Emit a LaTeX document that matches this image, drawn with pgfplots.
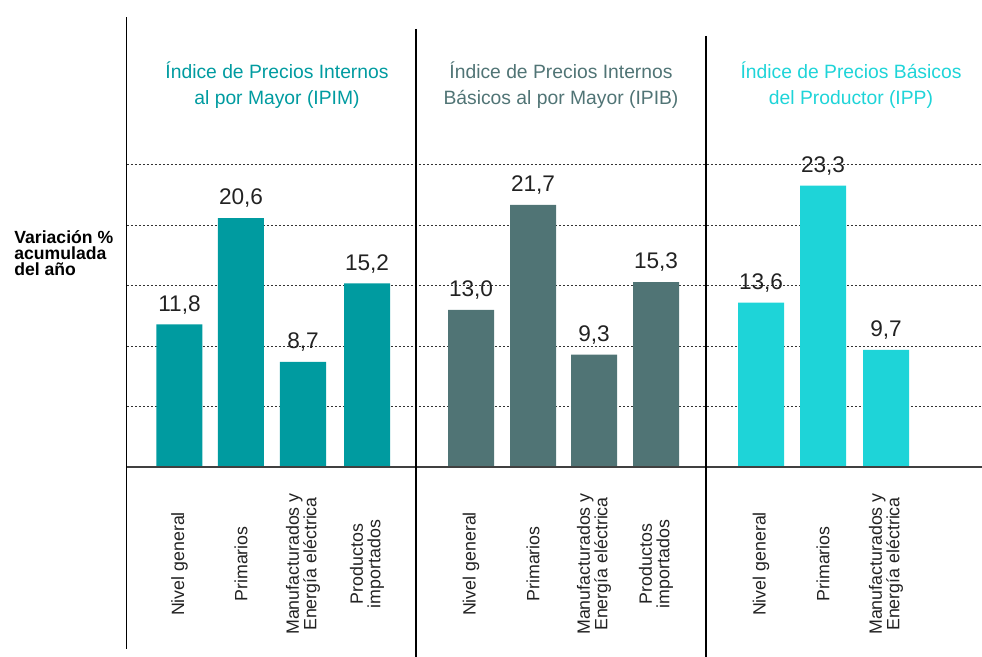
\documentclass[border=0pt]{standalone}
\usepackage{pgfplots}
\pgfplotsset{compat=1.18}
\usepackage{fontspec}
\setmainfont{Liberation Sans}
\definecolor{c1}{HTML}{009BA0}
\definecolor{c2}{HTML}{507475}
\definecolor{c3}{HTML}{1ED4D8}
\definecolor{txt}{HTML}{222222}
\begin{document}
\begin{tikzpicture}[x=1pt,y=1pt]
\useasboundingbox (0,0) rectangle (491,328.5);
\begin{axis}[
  at={(63.5pt,95pt)}, anchor=south west,
  scale only axis, width=427.5pt, height=151pt,
  xmin=127, xmax=982, ymin=0, ymax=25,
  axis line style={draw=none},
  major tick length=0pt,
  ytick={5,10,15,20,25}, yticklabels={},
  ymajorgrids,
  grid style={gray!40!black, dash pattern=on 1.1pt off 0.9pt, line width=0.5pt},
  xtick={179.5,241,303,367,471,533,594,656,761,823,886},
  xticklabels={Nivel general, Primarios, {Manufacturados y\\Energía eléctrica}, {Productos\\importados},
               Nivel general, Primarios, {Manufacturados y\\Energía eléctrica}, {Productos\\importados},
               Nivel general, Primarios, {Manufacturados y\\Energía eléctrica}},
  xticklabel style={rotate=90, anchor=center, align=center, font=\fontsize{8.9}{8.7}\selectfont, text=txt},
  xticklabel shift=48.5pt,
  ybar, bar width=23pt,
  clip=false,
  nodes near coords,
  every node near coord/.append style={font=\fontsize{11.3}{11.3}\selectfont, text=txt, anchor=south, inner sep=0pt, yshift=5pt},
  /pgf/number format/use comma,
  /pgf/number format/fixed,
  /pgf/number format/fixed zerofill,
  /pgf/number format/precision=1,
  /pgf/number format/assume math mode=true,
]
\addplot[fill=c1, draw=none, bar shift=0pt] coordinates {(179.5,11.8) (241,20.6) (303,8.7) (367,15.2)};
\addplot[fill=c2, draw=none, bar shift=0pt] coordinates {(471,13.0) (533,21.7) (594,9.3) (656,15.3)};
\addplot[fill=c3, draw=none, bar shift=0pt] coordinates {(761,13.6) (823,23.3) (886,9.7)};

\draw[gray!50!black, line width=0.7pt] (axis cs:127,0) -- (axis cs:982,0);
\draw[black, line width=0.6pt] (axis cs:126.5,37.25) -- (axis cs:126.5,-15.07);
\draw[black, line width=0.6pt] (axis cs:416,36.26) -- (axis cs:416,-15.73);
\draw[black, line width=0.6pt] (axis cs:706,35.68) -- (axis cs:706,-15.73);

\node[align=center, text=c1, font=\fontsize{9.65}{13}\selectfont] at (axis cs:277,31.6) {Índice de Precios Internos\\al por Mayor (IPIM)};
\node[align=center, text=c2, font=\fontsize{9.65}{13}\selectfont] at (axis cs:561,31.6) {Índice de Precios Internos\\Básicos al por Mayor (IPIB)};
\node[align=center, text=c3, font=\fontsize{9.65}{13}\selectfont] at (axis cs:851,31.6) {Índice de Precios Básicos\\del Productor (IPP)};

\node[anchor=west, align=left, inner sep=0pt, text=black, font=\bfseries\fontsize{8.8}{7.8}\selectfont] at (axis cs:14,17.7) {Variación \%\\acumulada\\del año};
\end{axis}
\end{tikzpicture}
\end{document}
